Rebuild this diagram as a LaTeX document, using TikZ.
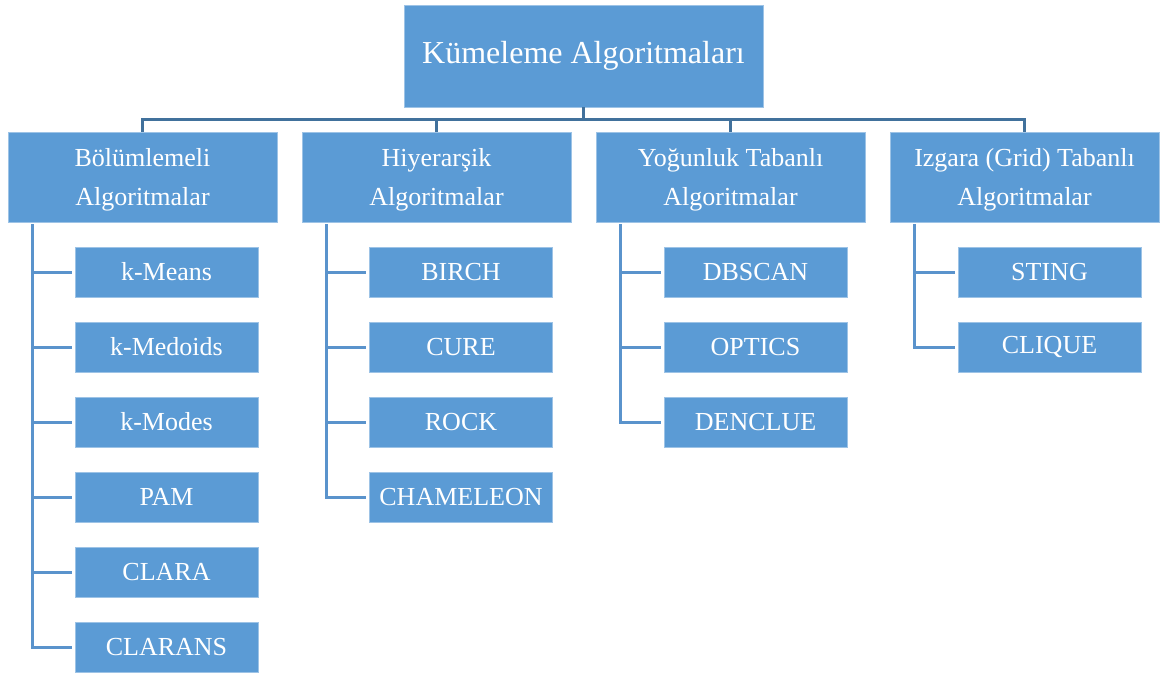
\documentclass[tikz,border=0pt]{standalone}
\usepackage{fontspec}
\setmainfont{Liberation Serif}
\definecolor{boxblue}{HTML}{5B9BD5}
\definecolor{boxedge}{HTML}{9DC3E6}
\definecolor{busblue}{HTML}{41719C}
\definecolor{legblue}{HTML}{5A93CC}
\newcommand{\topstrut}{\rule{0pt}{24pt}}
\tikzset{
  base/.style={fill=boxblue, draw=boxedge, line width=0.8pt, text=white, inner sep=0pt, align=center},
  rootbox/.style={base, minimum width=359pt, minimum height=102pt, font=\fontsize{32}{38}\selectfont},
  catbox/.style={base, minimum width=269pt, minimum height=90pt, font=\fontsize{26}{39.5}\selectfont},
  leafbox/.style={base, minimum width=183pt, minimum height=50pt, font=\fontsize{26}{30}\selectfont},
  busline/.style={draw=busblue, line width=3pt},
  legline/.style={draw=legblue, line width=3pt},
}
\begin{document}
\begin{tikzpicture}[x=1pt,y=-1pt]
\useasboundingbox (0,0) rectangle (1162,675);
\node[rootbox] (root) at (583.5,56) {Kümeleme Algoritmaları};
\node[catbox] (p1) at (142.5,177) {\topstrut Bölümlemeli\\Algoritmalar};
\node[catbox] (p2) at (436.5,177) {\topstrut Hiyerarşik\\Algoritmalar};
\node[catbox] (p3) at (730.5,177) {\topstrut Yoğunluk Tabanlı\\Algoritmalar};
\node[catbox] (p4) at (1024.5,177) {\topstrut Izgara (Grid) Tabanlı\\Algoritmalar};
% leaves column 1
\node[leafbox] (a1) at (166.5,272) {k-Means};
\node[leafbox] (a2) at (166.5,347) {k-Medoids};
\node[leafbox] (a3) at (166.5,422) {k-Modes};
\node[leafbox] (a4) at (166.5,497) {PAM};
\node[leafbox] (a5) at (166.5,572) {CLARA};
\node[leafbox] (a6) at (166.5,647) {CLARANS};
% column 2
\node[leafbox] (b1) at (461,272) {BIRCH};
\node[leafbox] (b2) at (461,347) {CURE};
\node[leafbox] (b3) at (461,422) {ROCK};
\node[leafbox] (b4) at (461,497) {CHAMELEON};
% column 3
\node[leafbox] (c1) at (755.5,272) {DBSCAN};
\node[leafbox] (c2) at (755.5,347) {OPTICS};
\node[leafbox] (c3) at (755.5,422) {DENCLUE};
% column 4
\node[leafbox] (d1) at (1049.5,272) {STING};
\node[leafbox] (d2) at (1049.5,347) {CLIQUE};
% top connectors
\foreach \p in {p1,p2,p3,p4}{
  \draw[busline] (root.south) -- ++(0,12.5) -| (\p.north);
}
% side connectors
\foreach \l in {a1,a2,a3,a4,a5,a6}{\draw[legline] ([xshift=25pt,yshift=-2pt]p1.south west) |- ([xshift=-3pt]\l.west);}
\foreach \l in {b1,b2,b3,b4}{\draw[legline] ([xshift=25pt,yshift=-2pt]p2.south west) |- ([xshift=-3pt]\l.west);}
\foreach \l in {c1,c2,c3}{\draw[legline] ([xshift=25pt,yshift=-2pt]p3.south west) |- ([xshift=-3pt]\l.west);}
\foreach \l in {d1,d2}{\draw[legline] ([xshift=25pt,yshift=-2pt]p4.south west) |- ([xshift=-3pt]\l.west);}
\end{tikzpicture}
\end{document}
